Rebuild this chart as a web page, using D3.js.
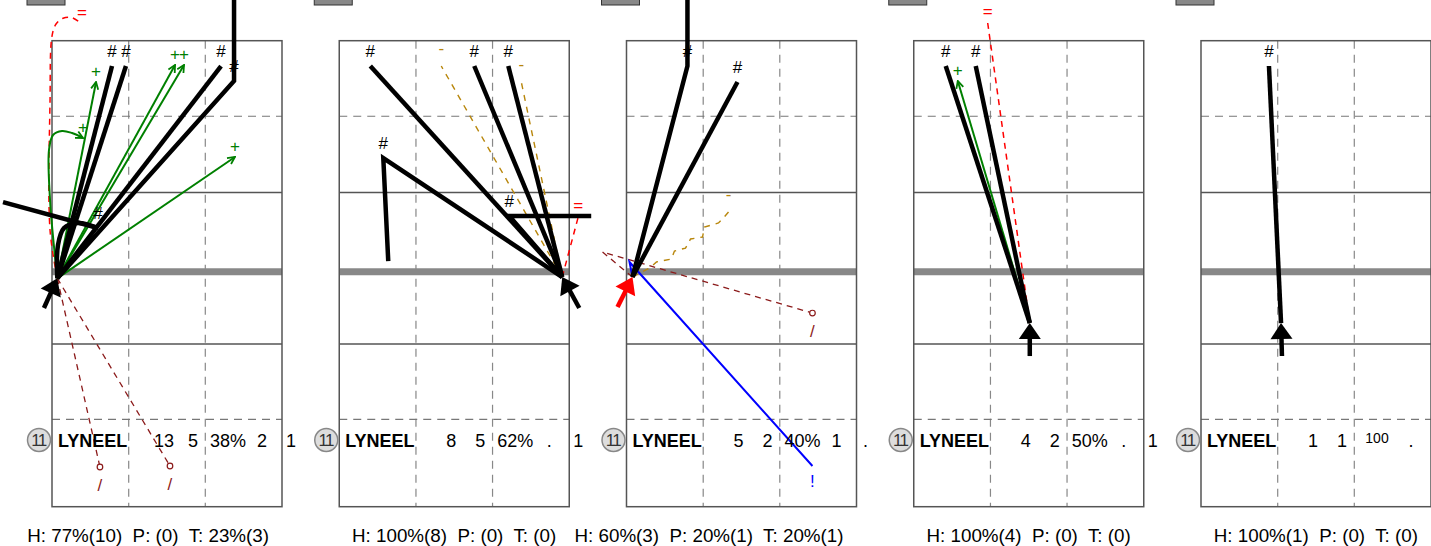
<!DOCTYPE html>
<html>
<head>
<meta charset="utf-8">
<script src="https://cdn.jsdelivr.net/npm/d3@7"></script>
<style>
  body { margin: 0; background: #fff; }
  svg { display: block; font-family: "Liberation Sans", Arial, sans-serif; }
</style>
</head>
<body>
<div id="chart"></div>
<script>
// Field units: 20 wide, 40.5 long (y grows downward)
const panels = [0, 1, 2, 3, 4];
const fieldWidth = 20;
const fieldLength = 40.52;
const thirdLinesX = [6.67, 13.33];
const solidLinesY = [13.2, 26.37];
const dashedLinesY = [6.57, 32.92];
const centerLineY = 20.09;

// Shooter position (arrow tail) and shot origin (arrow tip), per panel
const originX = [0.46, 19.39, 0.52, 10.09, 6.96];
const originY = [20.66, 20.55, 20.55, 24.55, 24.55];
const tailX = [-0.70, 20.87, -0.78, 10.09, 7.04];
const tailY = [23.24, 23.24, 23.16, 27.42, 27.42];
const markerColors = ['#000', '#000', '#f00', '#000', '#000'];

// Shots: t = outcome symbol, p = points after the origin, lab = index of labelled point
const shots1 = [
  { t: '/', p: [[4.17, 37.07]] },
  { t: '/', p: [[10.26, 36.98]] },
  { t: '=', p: [[-0.17, 16.48], [-0.17, 5.16], [0, -0.4], [0.35, -1.45], [0.96, -1.95], [1.74, -2.0], [2.61, -1.45]], curve: true },
  { t: '+', p: [[-0.17, 13.85], [-0.26, 9.5], [0.09, 8.2], [0.87, 7.85], [1.74, 8.03], [2.7, 8.46]], curve: true },
  { t: '+', p: [[3.83, 3.59]] },
  { t: '+', p: [[10.70, 2.11]] },
  { t: '+', p: [[11.48, 2.11]] },
  { t: '+', p: [[15.91, 10.11]] },
  { t: '#', p: [[0.52, 17.77], [1.04, 16.29], [2.26, 15.85], [4.0, 16.29]], curve: true },
  { t: '#', start: [4.0, 16.29], p: [[-4.26, 14.03]], noLabel: true },
  { t: '#', p: [[5.22, 2.20]] },
  { t: '#', p: [[6.43, 2.20]] },
  { t: '#', p: [[14.70, 2.20]] },
  { t: '#', p: [[15.83, 3.50], [15.83, -3.97]], lab: 0 }
];
const shots2 = [
  { t: '=', p: [[20.78, 15.33]] },
  { t: '-', p: [[8.87, 2.20]] },
  { t: '-', p: [[15.83, 3.59]] },
  { t: '#', p: [[2.70, 2.20]] },
  { t: '#', p: [[3.83, 10.20], [4.26, 19.16]], lab: 0 },
  { t: '#', p: [[11.74, 2.20]] },
  { t: '#', p: [[14.70, 2.20]] },
  { t: '#', p: [[14.78, 15.24], [21.91, 15.24]], lab: 0 }
];
const shots3 = [
  { t: '/', p: [[-2.09, 18.37], [16.17, 23.68]] },
  { t: '!', p: [[0.26, 19.24], [16.17, 36.98]] },
  { t: '-', p: [[2.0, 19.77], [2.61, 19.24], [3.91, 18.98], [4.17, 18.29], [5.13, 18.03], [5.57, 17.24],
                [6.61, 17.07], [6.78, 16.2], [8.0, 15.85], [8.35, 15.5], [8.87, 14.9]] },
  { t: '#', p: [[5.30, 2.20], [5.30, -3.97]], lab: 0 },
  { t: '#', p: [[9.65, 3.59]] }
];
const shots4 = [
  { t: '=', p: [[6.43, -1.54]] },
  { t: '+', p: [[3.83, 3.50]] },
  { t: '#', p: [[2.78, 2.20]] },
  { t: '#', p: [[5.39, 2.20]] }
];
const shots5 = [
  { t: '#', p: [[5.91, 2.20]] }
];
const shotsByPanel = [shots1, shots2, shots3, shots4, shots5];

// Player stat row
const playerNumber = '11';
const playerName = 'LYNEEL';
const statShots = ['13', '8', '5', '4', '1'];
const statGoals = ['5', '5', '2', '2', '1'];
const statPct = ['38%', '62%', '40%', '50%', '100'];
const statCol4 = ['2', '.', '1', '.', '.'];
const statCol5 = ['1', '1', '.', '1', ''];

// Footer
const hLabels = ['77%(10)', '100%(8)', '60%(3)', '100%(4)', '100%(1)'];
const pLabels = ['(0)', '(0)', '20%(1)', '(0)', '(0)'];
const tLabels = ['23%(3)', '(0)', '20%(1)', '(0)', '(0)'];

const typeStyle = {
  '#': { stroke: '#000', width: 4.5, dash: null, dy: -9, color: '#000' },
  '+': { stroke: '#008000', width: 2, dash: null, dy: -5, color: '#008000', marker: true },
  '-': { stroke: '#b8860b', width: 1.4, dash: '6,6', dy: -12, color: '#b8860b' },
  '=': { stroke: '#ff0000', width: 1.5, dash: '6,5', dy: -6, color: '#ff0000' },
  '/': { stroke: '#8b1a1a', width: 1.3, dash: '6,5', dy: 24, color: '#8b1a1a', circle: true },
  '!': { stroke: '#0000ff', width: 2, dash: null, dy: 21, color: '#0000ff' }
};

const width = 1431;
const height = 546;

const svg = d3.select('#chart')
  .append('svg')
  .attr('width', width)
  .attr('height', height);

svg.append('defs').append('marker')
  .attr('id', 'open-arrow')
  .attr('viewBox', '0 0 10 10')
  .attr('refX', 9)
  .attr('refY', 5)
  .attr('markerWidth', 9)
  .attr('markerHeight', 9)
  .attr('markerUnits', 'userSpaceOnUse')
  .attr('orient', 'auto')
  .append('path')
  .attr('d', 'M1,1 L9,5 L1,9')
  .attr('fill', 'none')
  .attr('stroke', '#008000')
  .attr('stroke-width', 2);

// Panel placement
const panelScale = d3.scaleBand()
  .domain(panels)
  .range([52, 1431])
  .paddingInner(0.1993)
  .paddingOuter(0);

const y = d3.scaleLinear()
  .domain([0, fieldLength])
  .range([40.7, 506.7]);

panels.forEach(i => {
  const left = panelScale(i);
  const x = d3.scaleLinear()
    .domain([0, fieldWidth])
    .range([left, left + panelScale.bandwidth()]);
  const g = svg.append('g').attr('class', 'panel');

  // Top box
  g.append('rect')
    .attr('x', left - 25)
    .attr('y', -2)
    .attr('width', 38)
    .attr('height', 7)
    .attr('fill', '#888')
    .attr('stroke', '#333')
    .attr('stroke-width', 1);

  // Grid
  g.selectAll('.vdash')
    .data(thirdLinesX)
    .enter()
    .append('line')
    .attr('x1', d => x(d)).attr('x2', d => x(d))
    .attr('y1', y(0)).attr('y2', y(fieldLength))
    .attr('stroke', '#888')
    .attr('stroke-width', 1.2)
    .attr('stroke-dasharray', '8,6');

  g.selectAll('.hdash')
    .data(dashedLinesY)
    .enter()
    .append('line')
    .attr('x1', x(0)).attr('x2', x(fieldWidth))
    .attr('y1', d => y(d)).attr('y2', d => y(d))
    .attr('stroke', '#777')
    .attr('stroke-width', 1.2)
    .attr('stroke-dasharray', '8,6');

  g.selectAll('.hsolid')
    .data(solidLinesY)
    .enter()
    .append('line')
    .attr('x1', x(0)).attr('x2', x(fieldWidth))
    .attr('y1', d => y(d)).attr('y2', d => y(d))
    .attr('stroke', '#555')
    .attr('stroke-width', 1.5);

  g.append('line')
    .attr('x1', x(0)).attr('x2', x(fieldWidth))
    .attr('y1', y(centerLineY)).attr('y2', y(centerLineY))
    .attr('stroke', '#888')
    .attr('stroke-width', 7);

  g.append('rect')
    .attr('x', x(0))
    .attr('y', y(0))
    .attr('width', x(fieldWidth) - x(0))
    .attr('height', y(fieldLength) - y(0))
    .attr('fill', 'none')
    .attr('stroke', '#555')
    .attr('stroke-width', 1.5);

  // Shots
  const origin = [originX[i], originY[i]];
  const straight = d3.line().x(d => x(d[0])).y(d => y(d[1]));
  const curved = d3.line().x(d => x(d[0])).y(d => y(d[1])).curve(d3.curveCatmullRom.alpha(0.5));

  shotsByPanel[i].forEach(s => {
    const st = typeStyle[s.t];
    const pts = [s.start || origin].concat(s.p);
    g.append('path')
      .attr('d', (s.curve ? curved : straight)(pts))
      .attr('fill', 'none')
      .attr('stroke', st.stroke)
      .attr('stroke-width', st.width)
      .attr('stroke-dasharray', st.dash)
      .attr('stroke-linejoin', 'miter')
      .attr('marker-end', st.marker ? 'url(#open-arrow)' : null);

    if (s.noLabel) return;
    const lp = s.p[s.lab !== undefined ? s.lab : s.p.length - 1];
    if (st.circle) {
      g.append('circle')
        .attr('cx', x(lp[0]))
        .attr('cy', y(lp[1]))
        .attr('r', 2.8)
        .attr('fill', '#fff')
        .attr('stroke', st.stroke)
        .attr('stroke-width', 1.2);
    }
    g.append('text')
      .attr('x', x(lp[0]))
      .attr('y', y(lp[1]) + st.dy)
      .attr('text-anchor', 'middle')
      .style('font-size', '17px')
      .style('fill', st.color)
      .text(s.t);
  });

  // Shooter marker arrow
  const x0 = x(tailX[i]), y0 = y(tailY[i]);
  const x1 = x(originX[i]), y1 = y(originY[i]);
  const len = Math.hypot(x1 - x0, y1 - y0);
  const ux = (x1 - x0) / len, uy = (y1 - y0) / len;
  const headL = 16, headW = 11;
  g.append('line')
    .attr('x1', x0).attr('y1', y0)
    .attr('x2', x1 - ux * headL * 0.6).attr('y2', y1 - uy * headL * 0.6)
    .attr('stroke', markerColors[i])
    .attr('stroke-width', 4.5);
  g.append('path')
    .attr('d', `M${x1},${y1}L${x1 - ux * headL - uy * headW},${y1 - uy * headL + ux * headW}` +
               `L${x1 - ux * headL + uy * headW},${y1 - uy * headL - ux * headW}Z`)
    .attr('fill', markerColors[i]);

  // Stat row
  const rowY = 447;
  g.append('circle')
    .attr('cx', left - 13)
    .attr('cy', rowY - 7)
    .attr('r', 11.5)
    .attr('fill', '#ddd')
    .attr('stroke', '#888')
    .attr('stroke-width', 1.5);
  g.append('text')
    .attr('x', left - 13.5)
    .attr('y', rowY - 1)
    .attr('text-anchor', 'middle')
    .style('font-size', '17px')
    .style('fill', '#333')
    .style('letter-spacing', '-1.5px')
    .text(playerNumber);
  g.append('text')
    .attr('x', left + 6)
    .attr('y', rowY)
    .style('font-size', '18px')
    .style('font-weight', 'bold')
    .text(playerName);

  const cols = [statShots[i], statGoals[i], statPct[i], statCol4[i], statCol5[i]];
  const colOffsets = [112, 141, 176, 210, 239];
  cols.forEach((c, j) => {
    const small = j === 2 && !c.includes('%');
    g.append('text')
      .attr('x', left + colOffsets[j])
      .attr('y', small ? rowY - 4 : rowY)
      .attr('text-anchor', 'middle')
      .style('font-size', small ? '14px' : '18px')
      .text(c);
  });

  // Footer
  g.append('text')
    .attr('x', left + 217)
    .attr('y', 542)
    .attr('text-anchor', 'end')
    .style('font-size', '18.8px')
    .style('white-space', 'pre')
    .attr('xml:space', 'preserve')
    .text(`H: ${hLabels[i]}  P: ${pLabels[i]}  T: ${tLabels[i]}`);
});
</script>
</body>
</html>
